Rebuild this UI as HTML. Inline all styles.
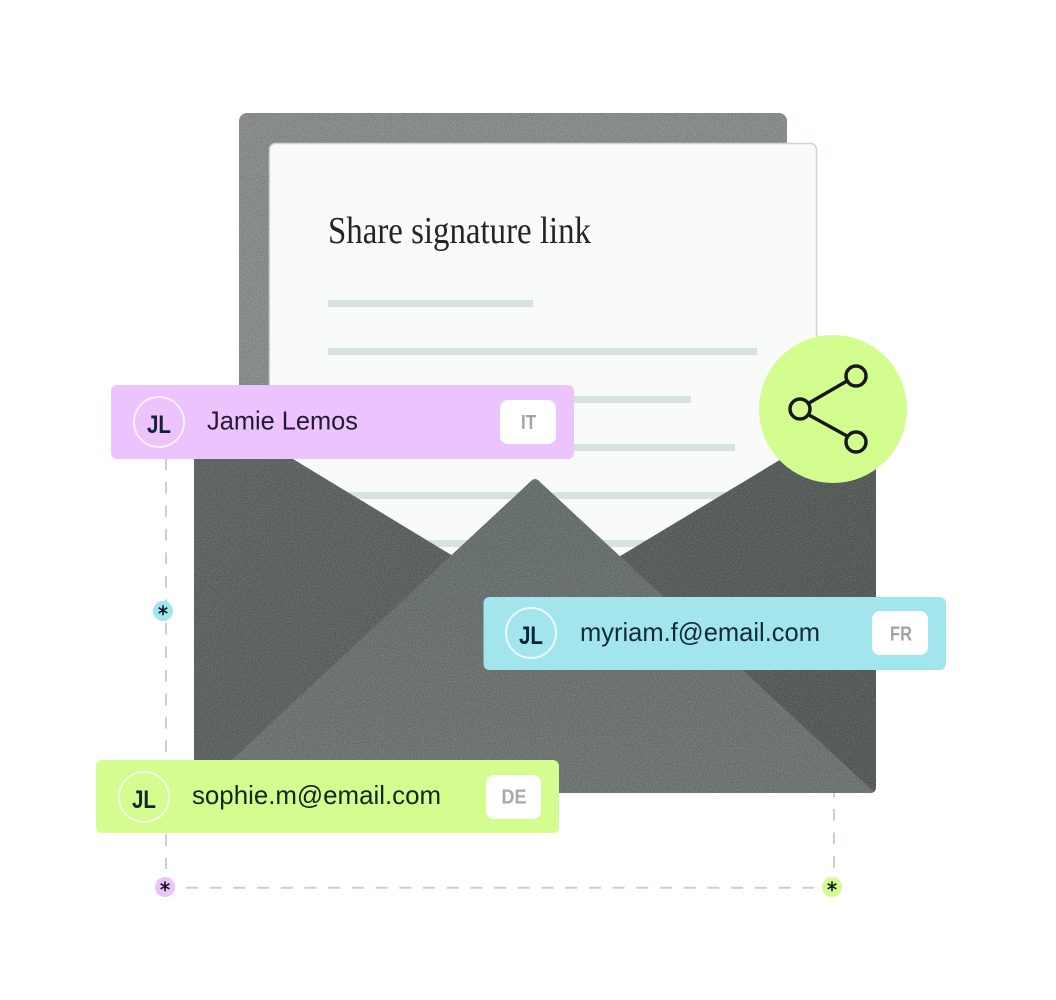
<!DOCTYPE html>
<html>
<head>
<meta charset="utf-8">
<style>
html,body{margin:0;padding:0;background:#fff}
svg{display:block}
.sans{font-family:"Liberation Sans",sans-serif}
.star{font-family:"DejaVu Sans",sans-serif;font-size:20px;fill:#15191a;stroke:#15191a;stroke-width:.5px;text-anchor:middle}
</style>
</head>
<body>
<svg width="1056" height="1000" viewBox="0 0 1056 1000" xmlns="http://www.w3.org/2000/svg">
<defs>
<filter id="grain" x="0" y="0" width="100%" height="100%" color-interpolation-filters="sRGB">
  <feTurbulence type="fractalNoise" baseFrequency="0.85" numOctaves="2" seed="4" result="n"/>
  <feColorMatrix in="n" type="matrix" values="3 0 0 0 -1  3 0 0 0 -1  3 0 0 0 -1  0 0 0 0 0.09" result="g"/>
  <feComposite in="g" in2="SourceGraphic" operator="in" result="gc"/>
  <feMerge><feMergeNode in="SourceGraphic"/><feMergeNode in="gc"/></feMerge>
</filter>
<linearGradient id="flapL" x1="0" y1="0" x2="1" y2="0.2">
  <stop offset="0" stop-color="#5d6461"/><stop offset="1" stop-color="#545a58"/>
</linearGradient>
<linearGradient id="flapF" x1="0" y1="0" x2="0" y2="1">
  <stop offset="0" stop-color="#656e6c"/><stop offset="1" stop-color="#6e7573"/>
</linearGradient>
</defs>

<!-- dashed guides -->
<g stroke="#c9d1cf" stroke-width="2" fill="none">
  <line x1="166" y1="458.400" x2="166" y2="869" stroke-dasharray="11.700 11.800"/>
  <line x1="834" y1="785.500" x2="834" y2="869" stroke-dasharray="11.700 11.800"/>
  <line x1="186" y1="887.700" x2="816" y2="887.700" stroke-dasharray="12 11.700"/>
</g>

<!-- back sheet -->
<rect x="239" y="113" width="548" height="420" rx="8" fill="#888d8a" filter="url(#grain)"/>

<!-- paper -->
<rect x="269.500" y="143.500" width="547" height="500" rx="6" fill="#f9fbfb" stroke="#ccd5d3" stroke-width="1.500"/>
<text x="328" y="243" font-family="'Liberation Serif',serif" font-size="38" fill="#222624" textLength="263" lengthAdjust="spacingAndGlyphs">Share signature link</text>
<g fill="#d8e3df">
  <rect x="328" y="300" width="205" height="7"/>
  <rect x="328" y="348" width="429" height="7"/>
  <rect x="328" y="396" width="363" height="7"/>
  <rect x="328" y="444" width="407" height="7"/>
  <rect x="328" y="492" width="400" height="7"/>
  <rect x="328" y="540" width="320" height="7"/>
</g>

<!-- envelope back -->
<path d="M194 399 L448 553 L535 600 L622 555 L876 402 L876 787 Q876 793 870 793 L194 793 Z" fill="url(#flapL)" filter="url(#grain)"/>
<!-- front flap -->
<path d="M530 482 Q535 476 540 482 L873 791 Q874 793 870 793 L196 793 Z" fill="url(#flapF)" filter="url(#grain)"/>

<!-- share circle -->
<circle cx="833" cy="409" r="74" fill="#d3fd8f"/>
<g stroke="#15191a" stroke-width="3.500" fill="none">
  <line x1="809" y1="403" x2="847" y2="381"/>
  <line x1="809" y1="415" x2="847" y2="436"/>
  <circle cx="800" cy="409" r="10"/>
  <circle cx="856" cy="376" r="10"/>
  <circle cx="856" cy="442" r="10"/>
</g>

<!-- pink card -->
<rect x="111" y="385" width="463" height="74" rx="6" fill="#ecc3fc"/>
<circle cx="159" cy="422" r="25" fill="none" stroke="#fbf1fe" stroke-width="2"/>
<text class="sans" x="159" y="433" font-size="25" font-weight="700" fill="#14213a" text-anchor="middle" textLength="24" lengthAdjust="spacingAndGlyphs">JL</text>
<text class="sans" x="207" y="429.500" font-size="26" fill="#231a33" textLength="151" lengthAdjust="spacingAndGlyphs">Jamie Lemos</text>
<rect x="500" y="400" width="56" height="44" rx="8" fill="#fff"/>
<text class="sans" x="528.500" y="429" font-size="20.500" font-weight="700" fill="#a3a3a3" text-anchor="middle" textLength="15" lengthAdjust="spacingAndGlyphs">IT</text>

<!-- blue card -->
<rect x="483.500" y="597" width="462.500" height="73" rx="6" fill="#a3e5ec"/>
<circle cx="531" cy="633" r="25" fill="none" stroke="#eafafb" stroke-width="2"/>
<text class="sans" x="531" y="644" font-size="25" font-weight="700" fill="#0c2338" text-anchor="middle" textLength="24" lengthAdjust="spacingAndGlyphs">JL</text>
<text class="sans" x="580" y="641" font-size="26" fill="#102a38" textLength="240" lengthAdjust="spacingAndGlyphs">myriam.f@email.com</text>
<rect x="872" y="611" width="56" height="44" rx="8" fill="#fff"/>
<text class="sans" x="901" y="640.500" font-size="20.500" font-weight="700" fill="#a3a3a3" text-anchor="middle" textLength="22" lengthAdjust="spacingAndGlyphs">FR</text>

<!-- green card -->
<rect x="96" y="760" width="463" height="73" rx="6" fill="#d3fd8f"/>
<circle cx="144" cy="797" r="25" fill="none" stroke="#f5fee4" stroke-width="2"/>
<text class="sans" x="144" y="808" font-size="25" font-weight="700" fill="#102a26" text-anchor="middle" textLength="24" lengthAdjust="spacingAndGlyphs">JL</text>
<text class="sans" x="192" y="804" font-size="26" fill="#14261a" textLength="249" lengthAdjust="spacingAndGlyphs">sophie.m@email.com</text>
<rect x="486" y="775" width="55" height="44" rx="8" fill="#fff"/>
<text class="sans" x="514" y="803.500" font-size="20.500" font-weight="700" fill="#a8a8a8" text-anchor="middle" textLength="25" lengthAdjust="spacingAndGlyphs">DE</text>

<!-- asterisk badges -->
<circle cx="163" cy="611" r="10" fill="#a3e5ec"/>
<text class="star" x="163" y="621">*</text>
<circle cx="165" cy="887" r="10" fill="#ecc3fc"/>
<text class="star" x="165" y="897">*</text>
<circle cx="832" cy="887" r="10" fill="#d3fd8f"/>
<text class="star" x="832" y="897">*</text>
</svg>
</body>
</html>
